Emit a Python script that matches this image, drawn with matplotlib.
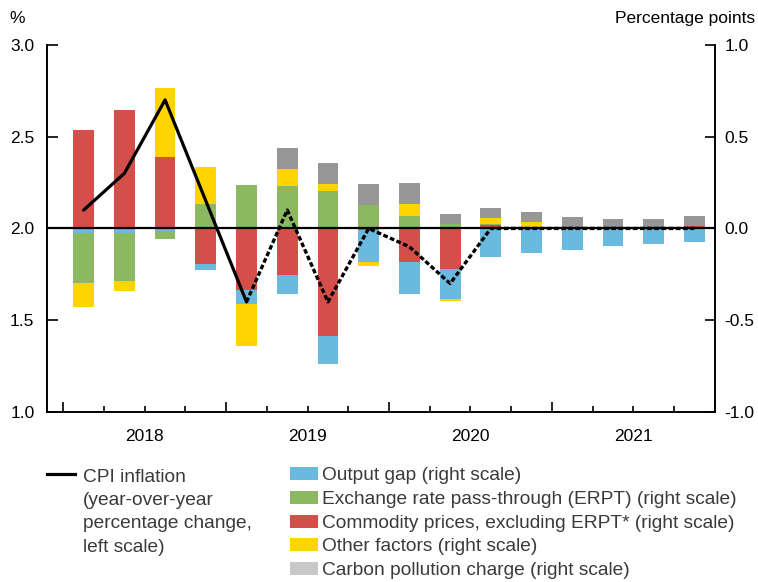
import numpy as np
import matplotlib
matplotlib.use('Agg')
import matplotlib.pyplot as plt
from matplotlib.patches import Rectangle
from matplotlib.lines import Line2D
import matplotlib.transforms as mtransforms

plt.rcParams['font.family'] = ['Liberation Sans', 'DejaVu Sans']
plt.rcParams['axes.unicode_minus'] = False

# quarters 2018Q1 .. 2021Q4
years = ['2018', '2019', '2020', '2021']
cpi = [2.1, 2.3, 2.7, 2.15, 1.6, 2.1, 1.6, 2.0, 1.9, 1.7, 2.0, 2.0, 2.0, 2.0, 2.0, 2.0]

# contributions, percentage points (right scale)
commodity = [0.536, 0.643, 0.387, -0.196, -0.336, -0.256, -0.587, -0.007,
             -0.182, -0.222, 0.020, 0.010, 0.0, 0.0, 0.0, 0.013]
output_gap = [-0.027, -0.027, -0.016, -0.033, -0.073, -0.102, -0.153, -0.174,
              -0.174, -0.163, -0.154, -0.133, -0.116, -0.094, -0.084, -0.073]
erpt = [-0.272, -0.260, -0.042, 0.133, 0.234, 0.229, 0.202, 0.127,
        0.067, 0.024, 0.005, 0.0, 0.0, 0.0, 0.0, 0.0]
other = [-0.129, -0.055, 0.376, 0.200, -0.233, 0.093, 0.038, -0.022,
         0.065, -0.009, 0.031, 0.024, 0.009, 0.0, 0.0, 0.0]
carbon = [0.0, 0.0, 0.0, 0.0, 0.0, 0.114, 0.114, 0.114,
          0.114, 0.054, 0.054, 0.054, 0.054, 0.051, 0.051, 0.054]

c_blue = '#6ab9de'
c_green = '#8db862'
c_red = '#d44f4a'
c_yellow = '#ffd400'
c_gray = '#979797'

W, H = 758, 582
fig = plt.figure(figsize=(W / 100, H / 100), dpi=100)
ax = fig.add_axes([0.062, 0.292, 0.881, 0.631])
ax2 = ax.twinx()

x = np.arange(len(cpi))
pos = np.zeros(len(x))
neg = np.zeros(len(x))
# stacking order away from zero
for vals, col in [(commodity, c_red), (output_gap, c_blue), (erpt, c_green),
                  (other, c_yellow), (carbon, c_gray)]:
    v = np.array(vals)
    base = np.where(v >= 0, pos, neg)
    ax2.bar(x, v, bottom=base, width=0.51, color=col, linewidth=0)
    pos = pos + np.clip(v, 0, None)
    neg = neg + np.clip(v, None, 0)

ax2.axhline(0, color='black', lw=1.6, zorder=3)

# CPI line: actual (solid) then projection (dotted)
ax.plot(x[:5], cpi[:5], color='black', lw=2.3, solid_capstyle='round', zorder=5)
ax.plot(x[4:], cpi[4:], color='black', lw=2.4, linestyle=(0, (1.4, 0.75)),
        dash_capstyle='butt', zorder=5)

ax.set_zorder(ax2.get_zorder() + 1)
ax.patch.set_visible(False)

ax.set_ylim(1.0, 3.0)
ax2.set_ylim(-1.0, 1.0)
ax.set_xlim(-0.9, 15.5)

ax.set_yticks([1.0, 1.5, 2.0, 2.5, 3.0])
ax.set_yticklabels(['1.0', '1.5', '2.0', '2.5', '3.0'])
ax2.set_yticks([-1.0, -0.5, 0.0, 0.5, 1.0])
ax2.set_yticklabels(['-1.0', '-0.5', '0.0', '0.5', '1.0'])

ax.set_xticks([-0.5, 3.5, 7.5, 11.5, 15.5])
ax.set_xticklabels([])
ax.set_xticks(np.arange(0.5, 15.5, 1.0), minor=True)

for a in (ax, ax2):
    a.spines['top'].set_visible(False)
    for s in a.spines.values():
        s.set_linewidth(1.2)
ax.tick_params(axis='y', direction='in', length=8, width=1.2, labelsize=12.5, pad=9)
ax2.tick_params(axis='y', direction='in', length=7.5, width=1.2, labelsize=12.5, pad=7)
ax.tick_params(axis='x', which='major', direction='in', length=7, width=1.2)
ax.tick_params(axis='x', which='minor', direction='in', length=4, width=1.2)

trans = mtransforms.blended_transform_factory(ax.transData, ax.transAxes)
for i, yr in enumerate(years):
    ax.text(4 * i + 1.5, -0.045, yr, transform=trans, ha='center', va='top', fontsize=12.5)

fig.text(0.013, 0.968, '%', fontsize=12.5, va='center', ha='left')
fig.text(0.996, 0.968, 'Percentage points', fontsize=12.5, va='center', ha='right')

# legend, drawn by hand (pixel positions converted to figure fractions)
def fx(px):
    return px / W

def fy(py):
    return 1 - py / H

txt_col = '#3a3a3a'
leg_fs = 13.8
fig.add_artist(Line2D([fx(47), fx(75)], [fy(474), fy(474)], color='black', lw=2.3))
cpi_lines = ['CPI inflation', '(year-over-year', 'percentage change,', 'left scale)']
for i, line in enumerate(cpi_lines):
    fig.text(fx(83), fy(475 + 23.5 * i), line, fontsize=leg_fs, color=txt_col,
             va='center_baseline', ha='left')

leg_cols = [c_blue, c_green, c_red, c_yellow, '#c8c8c9']
leg_labels = ['Output gap (right scale)',
              'Exchange rate pass-through (ERPT) (right scale)',
              'Commodity prices, excluding ERPT* (right scale)',
              'Other factors (right scale)',
              'Carbon pollution charge (right scale)']
for i, (col, lab) in enumerate(zip(leg_cols, leg_labels)):
    yc = 473.5 + 23.8 * i
    fig.add_artist(Rectangle((fx(290), fy(yc + 6.5)), fx(28), 13 / H,
                             color=col, transform=fig.transFigure, lw=0))
    fig.text(fx(322), fy(yc), lab, fontsize=leg_fs, color=txt_col,
             va='center_baseline', ha='left')

fig.savefig('out.png', dpi=100)
